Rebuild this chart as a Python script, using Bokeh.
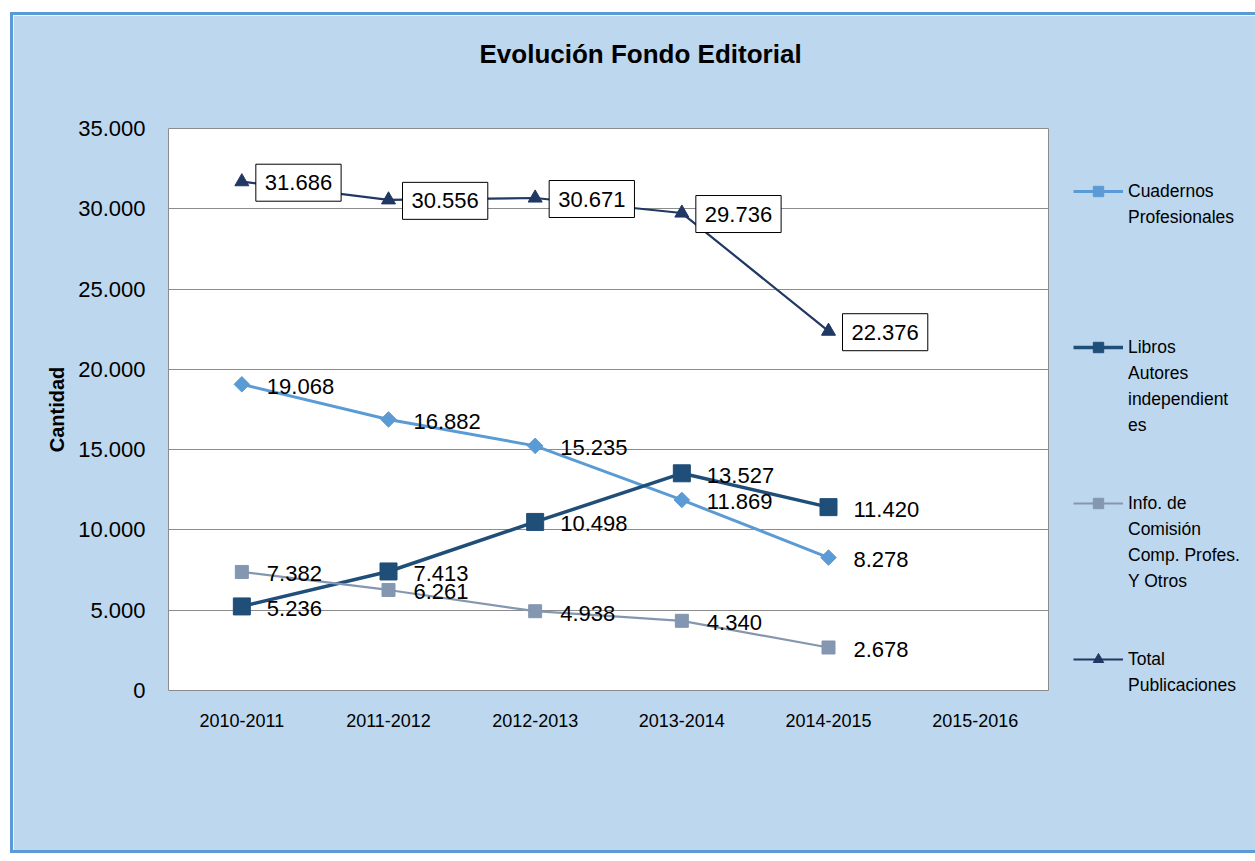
from bokeh.plotting import figure
from bokeh.models import ColumnDataSource, Legend, LegendItem, Title, FixedTicker, CustomJSTickFormatter
from bokeh.core.properties import value
from bokeh.embed import file_html
from bokeh.resources import INLINE

years = ["2010-2011", "2011-2012", "2012-2013", "2013-2014", "2014-2015", "2015-2016"]
data_years = years[:5]
cuadernos = [19068, 16882, 15235, 11869, 8278]
libros = [5236, 7413, 10498, 13527, 11420]
info = [7382, 6261, 4938, 4340, 2678]
total = [31686, 30556, 30671, 29736, 22376]
y_ticks = [0, 5000, 10000, 15000, 20000, 25000, 30000, 35000]

names = [["Cuadernos", "Profesionales"],
         ["Libros", "Autores", "independient", "es"],
         ["Info. de", "Comisión", "Comp. Profes.", "Y Otros"],
         ["Total", "Publicaciones"]]

FONT = "Liberation Sans"
BG = "#BDD7EE"

def fmt(v):
    return f"{v:,}".replace(",", ".")

p = figure(x_range=years, y_range=(0, 35000), frame_width=880, frame_height=562,
           output_backend="svg", toolbar_location=None,
           min_border_left=155, min_border_top=0, min_border_bottom=160, min_border_right=204,
           border_fill_color=BG, background_fill_color="white",
           outline_line_color="#8C8C8C")
p.styles = {"border": "3px solid #5B9BD5", "margin-left": "10px", "margin-top": "12px"}

# spacer (closest to the frame), then the real title above it
p.add_layout(Title(text=" ", text_font=FONT, text_font_size="22px", standoff=12), "above")
p.add_layout(Title(text="Evolución Fondo Editorial", align="left", text_font=FONT,
                   text_font_size="26px", text_font_style="bold", text_color="black",
                   offset=311, standoff=42), "above")

p.xgrid.grid_line_color = None
p.ygrid.grid_line_color = "#8C8C8C"
p.ygrid.ticker = FixedTicker(ticks=y_ticks)
p.yaxis.ticker = FixedTicker(ticks=y_ticks)
p.yaxis.formatter = CustomJSTickFormatter(code="return tick.toLocaleString('de-DE');")
for ax in (p.xaxis[0], p.yaxis[0]):
    ax.axis_line_color = None
    ax.major_tick_line_color = None
    ax.minor_tick_line_color = None
    ax.major_label_text_font = FONT
    ax.major_label_text_color = "black"
p.yaxis.major_label_text_font_size = "22px"
p.yaxis.major_label_standoff = 17
p.xaxis.major_label_text_font_size = "18px"
p.xaxis.major_label_standoff = 17
p.yaxis.axis_label = "Cantidad"
p.yaxis.axis_label_text_font = FONT
p.yaxis.axis_label_text_color = "black"
p.yaxis.axis_label_text_font_size = "20px"
p.yaxis.axis_label_text_font_style = "bold"
p.yaxis.axis_label_standoff = 7

series = [
    (cuadernos, "#5B9BD5", 3, "square", 11, 0.785398),
    (libros, "#1F4E79", 3.5, "square", 17, 0),
    (info, "#8497B0", 2.2, "square", 13, 0),
    (total, "#203864", 2.2, "triangle", 14, 0),
]

renderers = []
for vals, col, lw, mk, sz, ang in series:
    src = ColumnDataSource(dict(x=data_years, y=vals, t=[fmt(v) for v in vals]))
    l = p.line("x", "y", source=src, line_color=col, line_width=lw)
    m = p.scatter("x", "y", source=src, marker=mk, size=sz, angle=ang, fill_color=col, line_color=col)
    renderers.append((l, m, src))

for i, (l, m, src) in enumerate(renderers):
    if i == 3:
        p.text(x="x", y="y", text="t", source=src, x_offset=14, y_offset=1,
               text_font=value(FONT), text_font_size="22px", text_baseline="middle",
               text_color="black", background_fill_color="white",
               border_line_color="black", border_line_width=1, padding=(9, 11))
    else:
        p.text(x="x", y="y", text="t", source=src, x_offset=25, y_offset=2,
               text_font=value(FONT), text_font_size="22px", text_baseline="middle",
               text_color="black")

items = []
for i, lines in enumerate(names):
    for j, line in enumerate(lines):
        rs = [renderers[i][0], renderers[i][1]] if j == 0 else []
        items.append(LegendItem(label=line, renderers=rs))
    if i < 3:
        for _ in range(6 - len(lines)):
            items.append(LegendItem(label=" ", renderers=[]))

lg = Legend(items=items, location=(25, -8), orientation="vertical",
            background_fill_alpha=0, border_line_color=None,
            label_text_font=FONT, label_text_font_size="17.5px", label_text_color="black",
            glyph_width=50, glyph_height=26, label_height=26, label_standoff=5,
            padding=0, margin=0, spacing=0)
p.add_layout(lg, "right")

open("out.html", "w").write(file_html(p, INLINE))
